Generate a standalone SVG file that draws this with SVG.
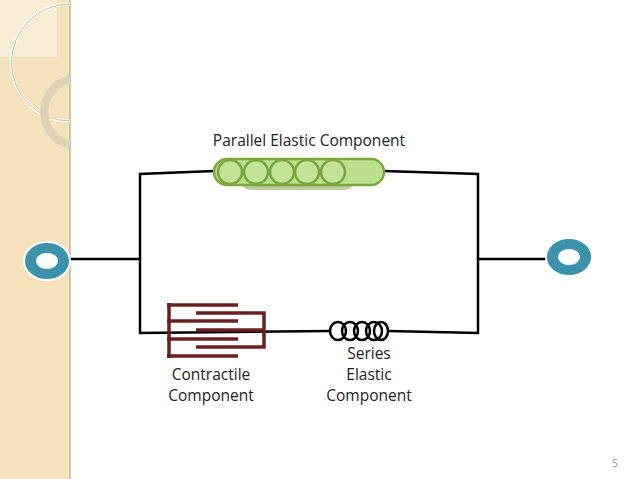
<svg xmlns="http://www.w3.org/2000/svg" width="638" height="479" viewBox="0 0 638 479">
<style>
.w{fill:none;stroke:#000;stroke-width:2.5}
.cc{stroke:#6b1f1f;stroke-width:3.5;fill:none}
.t{font-family:"Open Sans","DejaVu Sans",sans-serif;font-size:15.5px;fill:#222}
.term{fill:#3a93ab;stroke:#fff;stroke-width:2}
</style>
<rect width="638" height="479" fill="#fff"/>
<g id="sidebar">
<rect x="0" y="0" width="70" height="479" fill="#f3e2bc"/>
<rect x="0" y="0" width="57" height="57" fill="#f7ecd4"/>
<line x1="70" y1="0" x2="70" y2="479" stroke="#c8b48e" stroke-width="1.5"/>
<path d="M70,4 A58,58 0 0 0 70,121" fill="none" stroke="#fff" stroke-width="3"/>
<path d="M70,4 A58,58 0 0 0 70,121" fill="none" stroke="#c9b796" stroke-width="1"/>
<path d="M70,79 A34,34 0 0 0 70,145" fill="none" stroke="#ddd0b4" stroke-width="8"/>
</g>
<g id="connectors">
<polyline class="w" points="62,259 140,259"/>
<polyline class="w" points="214,171 140,174 140,333 330,331"/>
<polyline class="w" points="384,171 478,174 478,333 388,331"/>
<polyline class="w" points="478,259 555,259"/>
</g>
<g id="left-terminal">
<ellipse class="term" cx="47" cy="261" rx="23" ry="19"/>
<ellipse cx="47" cy="261" rx="11" ry="8" fill="#fff"/>
</g>
<g id="right-terminal">
<ellipse class="term" cx="569" cy="257" rx="23" ry="19"/>
<ellipse cx="569" cy="257" rx="11" ry="8" fill="#fff"/>
</g>
<g id="parallel-elastic">
<rect x="240" y="168" width="115" height="22" rx="11" fill="#8fae62" opacity="0.6"/>
<rect x="214" y="159" width="170" height="26" rx="13" fill="#bde08f" stroke="#7aa83c" stroke-width="2.5"/>
<g fill="#c2e296" stroke="#78a63a" stroke-width="2.5">
<circle cx="230" cy="172" r="12"/>
<circle cx="256" cy="172" r="12"/>
<circle cx="282" cy="172" r="12"/>
<circle cx="307" cy="172" r="12"/>
<circle cx="333" cy="172" r="12"/>
</g>
<text class="t" x="309" y="146" text-anchor="middle">Parallel Elastic Component</text>
</g>
<g id="contractile">
<line class="cc" x1="169" y1="303" x2="169" y2="358"/>
<line class="cc" x1="167" y1="305" x2="238" y2="305"/>
<line class="cc" x1="167" y1="321" x2="238" y2="321"/>
<line class="cc" x1="167" y1="339" x2="238" y2="339"/>
<line class="cc" x1="167" y1="356" x2="238" y2="356"/>
<path class="cc" d="M196,313 H264 V347 H196"/>
<line class="cc" x1="196" y1="330" x2="264" y2="330"/>
<text class="t" x="211" y="380" text-anchor="middle">Contractile</text>
<text class="t" x="211" y="401" text-anchor="middle">Component</text>
</g>
<g id="series-elastic">
<g fill="none" stroke="#000" stroke-width="2.5">
<ellipse cx="338" cy="331" rx="8" ry="9"/>
<ellipse cx="350" cy="331" rx="8" ry="9"/>
<ellipse cx="362" cy="331" rx="8" ry="9"/>
<ellipse cx="374" cy="331" rx="8" ry="9"/>
<ellipse cx="381" cy="331" rx="7" ry="9"/>
</g>
<text class="t" x="369" y="359" text-anchor="middle">Series</text>
<text class="t" x="369" y="380" text-anchor="middle">Elastic</text>
<text class="t" x="369" y="401" text-anchor="middle">Component</text>
</g>
<text x="615" y="467" font-family="Open Sans,sans-serif" font-size="10" fill="#888" text-anchor="middle">5</text>
</svg>
